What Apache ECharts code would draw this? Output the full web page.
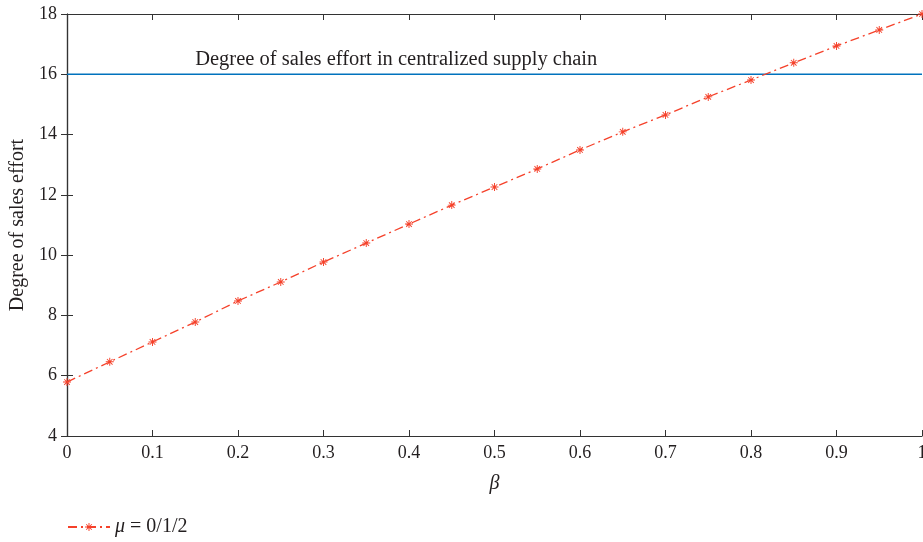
<!DOCTYPE html>
<html>
<head>
<meta charset="utf-8">
<script src="https://cdn.jsdelivr.net/npm/echarts@6/dist/echarts.min.js"></script>
<style>
html,body{margin:0;padding:0;background:#fff;}
#chart{width:923px;height:542px;}
</style>
</head>
<body>
<div id="chart"></div>
<script>
const betaValues = [0,0.05,0.1,0.15,0.2,0.25,0.3,0.35,0.4,0.45,0.5,0.55,0.6,0.65,0.7,0.75,0.8,0.85,0.9,0.95,1.0];
const effortValues = [5.79,6.46,7.12,7.78,8.48,9.11,9.77,10.40,11.03,11.66,12.26,12.86,13.49,14.09,14.65,15.25,15.81,16.38,16.94,17.47,18.0];
const centralizedBeta = [0,1];
const centralizedEffort = [16,16];
const annotationText = 'Degree of sales effort in centralized supply chain';
const annotationAt = [0.385, 16];
const seriesName = 'μ = 0/1/2';

const FONT = '"Liberation Serif", "DejaVu Serif", serif';
const TXT = '#231f20';
const RED = '#f5412a';
const BLUE = '#0072bd';
const asterisk = 'path://M0,4.4L10,4.4L10,5.6L0,5.6Z M4.4,0L5.6,0L5.6,10L4.4,10Z M1.1,1.9L1.9,1.1L8.9,8.1L8.1,8.9Z M8.9,1.9L1.9,8.9L1.1,8.1L8.1,1.1Z';

const chart = echarts.init(document.getElementById('chart'), null, {renderer:'canvas'});
const axisLine = {show:true, lineStyle:{color:'#333', width:1.2}};
chart.setOption({
  animation:false,
  backgroundColor:'#fff',
  textStyle:{fontFamily:FONT, color:TXT},
  grid:{left:67, right:1, top:14, bottom:106, containLabel:false, outerBoundsMode:'none'},
  legend:{
    left:62, top:512, itemWidth:42, itemHeight:10, itemGap:10,
    data:[{name:seriesName}],
    formatter:function(){return '{i|μ} = 0/1/2';},
    textStyle:{fontFamily:FONT, fontSize:20, color:TXT, rich:{i:{fontFamily:FONT, fontStyle:'italic', fontSize:20, color:TXT}}}
  },
  xAxis:[{
    type:'value', min:0, max:1, interval:0.1, position:'bottom',
    name:'β', nameLocation:'middle', nameGap:38,
    nameTextStyle:{fontFamily:FONT, fontStyle:'italic', fontSize:20, color:TXT},
    axisLine:axisLine,
    axisTick:{show:true, inside:true, length:6, lineStyle:{color:'#333'}},
    axisLabel:{fontFamily:FONT, fontSize:18, color:TXT, margin:8, formatter:function(v){return v===1?'1':(v===0?'0':v.toFixed(1));}},
    splitLine:{show:false}
  },{
    type:'value', min:0, max:1, interval:0.1, position:'top',
    axisLine:axisLine,
    axisTick:{show:true, inside:true, length:6, lineStyle:{color:'#333'}},
    axisLabel:{show:false}, splitLine:{show:false}
  }],
  yAxis:[{
    type:'value', min:4, max:18, interval:2, position:'left',
    name:'Degree of sales effort', nameLocation:'middle', nameGap:36,
    nameTextStyle:{fontFamily:FONT, fontSize:20, color:TXT},
    axisLine:axisLine,
    axisTick:{show:true, inside:true, length:6, lineStyle:{color:'#333'}},
    axisLabel:{fontFamily:FONT, fontSize:18, color:TXT, margin:10},
    splitLine:{show:false}
  },{
    type:'value', min:4, max:18, interval:2, position:'right',
    axisLine:axisLine,
    axisTick:{show:true, inside:true, length:6, lineStyle:{color:'#333'}},
    axisLabel:{show:false}, splitLine:{show:false}
  }],
  series:[{
    name:'centralized', type:'line', xAxisIndex:0, yAxisIndex:0,
    data:centralizedBeta.map((b,i)=>[b,centralizedEffort[i]]),
    showSymbol:false, symbol:'none',
    lineStyle:{color:BLUE, width:1.5}, z:2,
    markPoint:{
      symbol:'circle', symbolSize:0,
      data:[{coord:annotationAt, value:annotationText}],
      label:{show:true, position:'top', distance:4, formatter:annotationText, fontFamily:FONT, fontSize:20.5, color:TXT}
    }
  },{
    name:seriesName, type:'line', xAxisIndex:0, yAxisIndex:0,
    data:betaValues.map((b,i)=>[b,effortValues[i]]),
    symbol:asterisk, symbolSize:8, showSymbol:true,
    itemStyle:{color:RED},
    lineStyle:{color:RED, width:1.3, type:[9,4,2,4]},
    z:3, clip:false
  }]
});
</script>
</body>
</html>
